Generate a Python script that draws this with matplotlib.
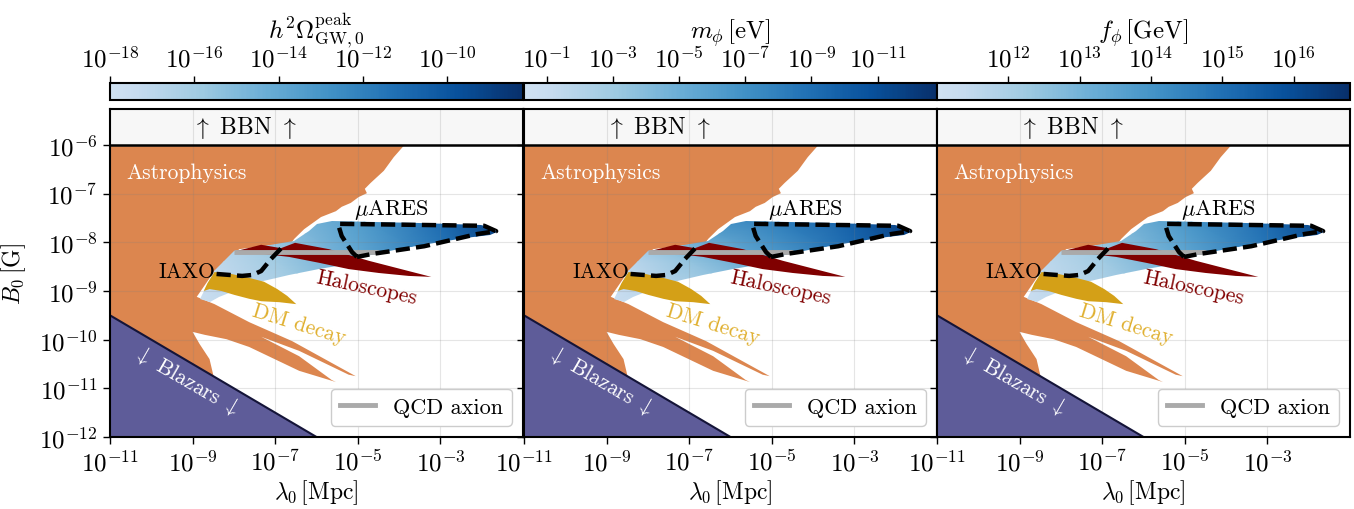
import numpy as np
import matplotlib
matplotlib.use("Agg")
import matplotlib.pyplot as plt
from matplotlib.colors import LogNorm, LinearSegmentedColormap
from matplotlib.patches import Polygon
from matplotlib.lines import Line2D
import matplotlib.cm as cm

plt.rcParams['font.family'] = 'serif'
plt.rcParams['font.serif'] = ['cmr10']
plt.rcParams['mathtext.fontset'] = 'cm'
plt.rcParams['axes.formatter.use_mathtext'] = True
plt.rcParams['axes.unicode_minus'] = False

# all region boundaries in log10(lambda_0 / Mpc), log10(B_0 / G)
astro_lam = [-11, -3.87, -4.13, -4.37, -4.69, -4.83, -4.78, -4.98, -5.17, -5.39, -5.53, -5.89,
             -6.30, -6.54, -6.61, -7.87, -8.47, -8.90, -8.47, -7.63, -6.59, -5.05, -5.22,
             -6.42, -7.34, -6.42, -5.63, -5.53, -6.42, -7.63, -8.18, -8.71, -9.00, -8.83,
             -8.59, -8.49, -11]
astro_B = [-6.0, -6.0, -6.25, -6.53, -6.78, -6.90, -6.99, -7.07, -7.19, -7.27, -7.36, -7.48,
           -7.73, -7.93, -8.01, -8.14, -8.59, -9.12, -9.27, -9.64, -10.03, -10.75, -10.72,
           -10.23, -9.94, -10.34, -10.83, -10.87, -10.64, -10.15, -9.99, -9.90, -9.84, -10.09,
           -10.40, -10.76, -9.5]

gw_lam = [-8.83, -8.47, -7.99, -6.54, -6.18, -5.99, -5.63, -3.53, -2.01, -1.72, -1.63, -1.80,
          -2.40, -3.29, -4.01, -4.81, -5.22, -5.94, -6.66, -7.39, -7.87, -8.35, -8.59]
gw_B = [-9.16, -8.59, -8.18, -7.97, -7.77, -7.62, -7.56, -7.60, -7.64, -7.71, -7.79, -7.85,
        -7.91, -8.03, -8.14, -8.28, -8.45, -8.55, -8.67, -8.81, -8.96, -9.12, -9.23]

dm_lam = [-8.47, -8.06, -7.63, -7.27, -6.95, -6.71, -6.49, -6.90, -7.34, -7.63, -7.99, -8.30,
          -8.59, -8.73, -8.64]
dm_B = [-8.61, -8.65, -8.73, -8.81, -8.96, -9.10, -9.27, -9.23, -9.21, -9.16, -9.08, -9.00,
        -8.96, -9.00, -8.84]

halo_lam = [-7.94, -7.34, -6.86, -6.52, -5.70, -4.73, -3.77, -3.22, -3.77, -4.49, -5.22, -5.94,
            -6.66, -7.27, -7.63]
halo_B = [-8.18, -8.05, -8.12, -8.01, -8.14, -8.38, -8.59, -8.71, -8.69, -8.63, -8.55, -8.42,
          -8.30, -8.24, -8.22]

blazar_lam = [-11.0, -6.0]
blazar_B = [-9.5, -12.0]

qcd_lam = [-7.99, -4.49]
qcd_B = [-8.20, -8.20]

iaxo_lam = [-8.42, -7.80, -7.55, -7.34, -7.10, -6.83]
iaxo_B = [-8.65, -8.69, -8.67, -8.59, -8.34, -8.10]

mares_lam = [-5.02, -5.14, -5.39, -5.48, -1.94, -1.65, -2.11, -3.39, -4.66, -5.02]
mares_B = [-8.30, -8.20, -7.87, -7.62, -7.66, -7.77, -7.83, -8.08, -8.24, -8.30]

# colour level (0-1 along the colour bar) of the GW region, read per panel
grad_lam = [-9.0, -7.0, -5.0, -3.0, -1.5]
grad_B = [-9.3, -8.4, -7.5]
grad_omega = [[0.02, 0.12, 0.32, 0.55, 0.75],
              [0.04, 0.20, 0.40, 0.64, 0.86],
              [0.08, 0.28, 0.47, 0.72, 0.93]]
grad_mass = [[0.02, 0.10, 0.25, 0.45, 0.70],
             [0.05, 0.25, 0.45, 0.70, 0.88],
             [0.25, 0.50, 0.62, 0.78, 0.95]]
grad_fphi = [[0.02, 0.12, 0.30, 0.50, 0.70],
             [0.05, 0.20, 0.40, 0.65, 0.85],
             [0.10, 0.30, 0.50, 0.72, 0.92]]

cb_labels = [r"$h^2\Omega_{\rm GW,0}^{\rm peak}$", r"$m_\phi\,[\mathrm{eV}]$", r"$f_\phi\,[\mathrm{GeV}]$"]
cb_ranges = [(-18, -8.2), (-12.79, -0.32), (11, 16.79)]
cb_ticks = [[1e-18, 1e-16, 1e-14, 1e-12, 1e-10],
            [1e-1, 1e-3, 1e-5, 1e-7, 1e-9, 1e-11],
            [1e12, 1e13, 1e14, 1e15, 1e16]]

c_astro = '#dc864f'
c_dm = '#d4a017'
c_halo = '#800000'
c_blazar = '#5e5c99'
c_qcd = '#aaaaaa'

cmap = LinearSegmentedColormap.from_list('bl', plt.cm.Blues(np.linspace(0.2, 1.0, 256)))


def E(a):
    return 10.0 ** np.asarray(a, dtype=float)


def P(lam, b):
    return np.column_stack([E(lam), E(b)])


fig = plt.figure(figsize=(13.54, 5.10), dpi=100)
W, H = 1354.0, 510.0
lefts = [110, 524, 937]
pw = 413
y_top = 10 ** (-6 + 36 / 48.67)

grads = [grad_omega, grad_mass, grad_fphi]

for i in range(3):
    ax = fig.add_axes([lefts[i] / W, (H - 438) / H, pw / W, (438 - 110) / H])
    ax.set_xscale('log')
    ax.set_yscale('log')
    ax.set_xlim(1e-11, 1e-1)
    ax.set_ylim(1e-12, y_top)

    ax.add_patch(Polygon(P(astro_lam, astro_B), closed=True, fc=c_astro, ec='none', zorder=1))

    gw_poly = Polygon(P(gw_lam, gw_B), closed=True, fc='none', ec='none', zorder=2)
    ax.add_patch(gw_poly)
    mesh = ax.pcolormesh(E(grad_lam), E(grad_B), np.array(grads[i]),
                         cmap=cmap, vmin=0, vmax=1, shading='gouraud', zorder=2)
    mesh.set_clip_path(gw_poly)

    ax.add_patch(Polygon(P(dm_lam, dm_B), closed=True, fc=c_dm, ec='none', zorder=3))
    ax.add_patch(Polygon(P(halo_lam, halo_B), closed=True, fc=c_halo, ec='none', zorder=3))

    ax.fill_between(E(blazar_lam), 1e-12, E(blazar_B), color=c_blazar, lw=0, zorder=3)
    ax.plot(E(blazar_lam), E(blazar_B), color='#141438', lw=1.5, zorder=3)

    ax.plot(E(qcd_lam), E(qcd_B), color=c_qcd, lw=3.5, zorder=4, solid_capstyle='butt')
    ax.plot(E(iaxo_lam), E(iaxo_B), color='k', lw=3.2, dashes=(3.2, 1.4), zorder=5)
    ax.plot(E(mares_lam), E(mares_B), color='k', lw=3.2, dashes=(3.2, 1.4), zorder=5)

    # BBN band
    ax.axhspan(1e-6, y_top, color='#f7f7f7', zorder=1)
    ax.axhline(1e-6, color='k', lw=1.8, zorder=6)

    ax.text(10 ** -9.14, 10 ** -6.55, 'Astrophysics', color='white', fontsize=15.5,
            ha='center', va='center', zorder=7)
    ax.text(10 ** -7.75, 10 ** -5.63, r'$\uparrow$ BBN $\uparrow$', color='k', fontsize=17,
            ha='center', va='center', zorder=7)
    ax.text(10 ** -4.18, 10 ** -7.31, r'$\mu$ARES', color='k', fontsize=16,
            ha='center', va='center', zorder=7)
    ax.text(10 ** -8.45, 10 ** -8.59, 'IAXO', color='k', fontsize=15.5,
            ha='right', va='center', zorder=7)
    ax.text(10 ** -4.78, 10 ** -8.92, 'Haloscopes', color=c_halo, fontsize=15.5,
            ha='center', va='center', rotation=-12, zorder=7)
    ax.text(10 ** -6.42, 10 ** -9.68, 'DM decay', color='#e0b030', fontsize=15.5,
            ha='center', va='center', rotation=-17, zorder=7)
    ax.text(10 ** -9.14, 10 ** -10.83, r'$\downarrow$ Blazars $\downarrow$', color='white',
            fontsize=15.5, ha='center', va='center', rotation=-30, zorder=7)

    leg = ax.legend(handles=[Line2D([], [], color=c_qcd, lw=3.5, label='QCD axion')],
                    loc='lower right', fontsize=16, framealpha=1, handlelength=1.6,
                    borderaxespad=0.5, borderpad=0.4)
    leg.set_zorder(8)

    ax.set_xticks([1e-11, 1e-9, 1e-7, 1e-5, 1e-3])
    ax.set_yticks([1e-12, 1e-11, 1e-10, 1e-9, 1e-8, 1e-7, 1e-6])
    ax.minorticks_off()
    ax.grid(True, color='gray', alpha=0.2, lw=0.8, zorder=6)
    ax.set_axisbelow(False)
    ax.tick_params(direction='out', length=5, width=1, labelsize=18, pad=4)
    for s in ax.spines.values():
        s.set_linewidth(1.5)
        s.set_zorder(10)
    ax.set_xlabel(r'$\lambda_0\,[\mathrm{Mpc}]$', fontsize=17, labelpad=1)
    if i == 0:
        ax.set_ylabel(r'$B_0\,[\mathrm{G}]$', fontsize=17, labelpad=8)
    else:
        ax.tick_params(labelleft=False)

    # colour bar
    cax = fig.add_axes([lefts[i] / W, (H - 101) / H, pw / W, 17 / H])
    lo, hi = cb_ranges[i]
    norm = LogNorm(vmin=10 ** lo, vmax=10 ** hi)
    cm_use = cmap.reversed() if i == 1 else cmap
    sm = cm.ScalarMappable(norm=norm, cmap=cm_use)
    cb = fig.colorbar(sm, cax=cax, orientation='horizontal')
    if i == 1:
        cax.invert_xaxis()
    cb.set_ticks(cb_ticks[i])
    cax.minorticks_off()
    cax.xaxis.set_ticks_position('top')
    cax.xaxis.set_label_position('top')
    cax.tick_params(labelsize=18, length=5, width=1, pad=3)
    cb.outline.set_linewidth(1.5)
    cb.set_label(cb_labels[i], fontsize=18, labelpad=6)

fig.savefig('out.png', dpi=100)
